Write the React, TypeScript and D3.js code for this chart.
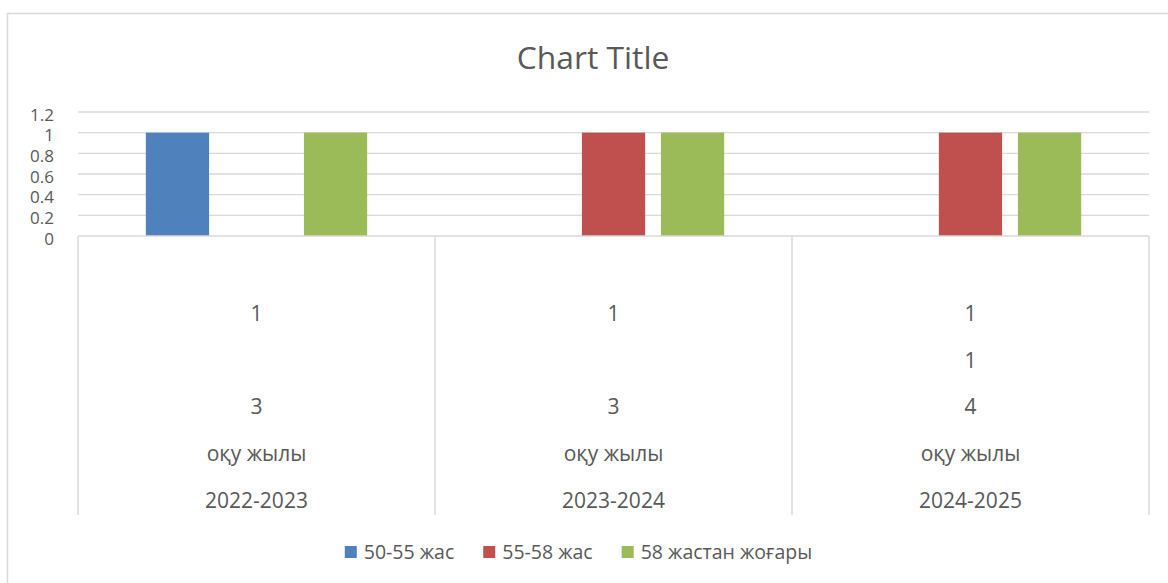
import { useEffect, useRef } from 'react'
import * as d3 from 'd3'

const CATEGORIES = ['2022-2023', '2023-2024', '2024-2025']
// multi-level category labels, top row (next to the axis) first
const CATEGORY_LEVELS: string[][] = [
  ['1', '', '3', 'оқу жылы', '2022-2023'],
  ['1', '', '3', 'оқу жылы', '2023-2024'],
  ['1', '1', '4', 'оқу жылы', '2024-2025'],
]
const SERIES = ['50-55 жас', '55-58 жас', '58 жастан жоғары']
const VALUES_50_55: (number | null)[] = [1, null, null]
const VALUES_55_58: (number | null)[] = [null, 1, 1]
const VALUES_58_PLUS: (number | null)[] = [1, 1, 1]
const Y_TICKS = [0, 0.2, 0.4, 0.6, 0.8, 1, 1.2]

const COLORS = ['#4F81BD', '#C0504D', '#9BBB59']
const TEXT = '#595959'
const GRID = '#D9D9D9'
const FONT = '"Open Sans", "Noto Sans", sans-serif'

export default function App() {
  const svgRef = useRef<SVGSVGElement>(null)
  const W = 1168
  const H = 583
  const M = { left: 78, right: 1149, top: 112, base: 236 }

  useEffect(() => {
    document.body.style.margin = '0'
    if (!svgRef.current) return
    const svg = d3.select(svgRef.current)
    svg.selectAll('*').remove()

    const seriesValues = [VALUES_50_55, VALUES_55_58, VALUES_58_PLUS]

    // chart border
    svg.append('rect').attr('x', 7.5).attr('y', 13.5).attr('width', 1200).attr('height', 700)
      .attr('fill', '#fff').attr('stroke', GRID).attr('stroke-width', 1.5)

    // title
    svg.append('text').attr('x', 593).attr('y', 69).attr('text-anchor', 'middle')
      .attr('fill', TEXT).attr('font-family', FONT).attr('font-size', 31.8).text('Chart Title')

    const x0 = d3.scaleBand<string>().domain(CATEGORIES).range([M.left, M.right]).padding(0)
    const groupW = x0.bandwidth() * 0.62
    const x1 = d3.scaleBand<string>().domain(SERIES).range([0, groupW]).paddingInner(0.2).paddingOuter(0)
    const y = d3.scaleLinear().domain([0, 1.2]).range([M.base, M.top])

    // gridlines
    Y_TICKS.filter(t => t > 0).forEach(t => {
      svg.append('line').attr('x1', M.left).attr('x2', M.right).attr('y1', y(t)).attr('y2', y(t))
        .attr('stroke', GRID).attr('stroke-width', 1.3)
    })

    // y labels
    Y_TICKS.forEach(t => {
      svg.append('text').attr('x', 54).attr('y', y(t) + 8.5).attr('text-anchor', 'end')
        .attr('fill', TEXT).attr('font-family', FONT).attr('font-size', 17)
        .text(String(+t.toFixed(1)))
    })

    // bars
    seriesValues.forEach((vals, si) => {
      vals.forEach((v, ci) => {
        if (v == null) return
        const cx = x0(CATEGORIES[ci])! + x0.bandwidth() / 2
        svg.append('rect')
          .attr('x', cx - groupW / 2 + x1(SERIES[si])!)
          .attr('y', y(v)).attr('width', x1.bandwidth()).attr('height', y(0) - y(v))
          .attr('fill', COLORS[si])
      })
    })

    // category axis
    svg.append('line').attr('x1', M.left).attr('x2', M.right).attr('y1', M.base).attr('y2', M.base)
      .attr('stroke', GRID).attr('stroke-width', 1.5)
    const edges = [...CATEGORIES.map(c => x0(c)!), M.right]
    edges.forEach(ex => {
      svg.append('line').attr('x1', ex).attr('x2', ex).attr('y1', M.base).attr('y2', 515)
        .attr('stroke', GRID).attr('stroke-width', 1.5)
    })
    const rowBaselines = [321, 368, 414, 461, 508]
    CATEGORY_LEVELS.forEach((levels, ci) => {
      const cx = x0(CATEGORIES[ci])! + x0.bandwidth() / 2
      levels.forEach((lab, li) => {
        if (!lab) return
        svg.append('text').attr('x', cx).attr('y', rowBaselines[li]).attr('text-anchor', 'middle')
          .attr('fill', TEXT).attr('font-family', FONT).attr('font-size', 21).text(lab)
      })
    })

    // legend
    const lg = svg.append('g')
    let lx = 0
    SERIES.forEach((s, i) => {
      lg.append('rect').attr('x', lx).attr('y', 546).attr('width', 12).attr('height', 12).attr('fill', COLORS[i])
      const t = lg.append('text').attr('x', lx + 19).attr('y', 559).attr('fill', TEXT)
        .attr('font-family', FONT).attr('font-size', 19.5).text(s)
      const tw = (t.node() as SVGTextElement).getComputedTextLength()
      lx += 19 + tw + 29
    })
    const total = lx - 29
    lg.attr('transform', `translate(${578.5 - total / 2},0)`)
  }, [])

  return <svg ref={svgRef} width={W} height={H} style={{ display: 'block', background: '#fff' }} />
}
